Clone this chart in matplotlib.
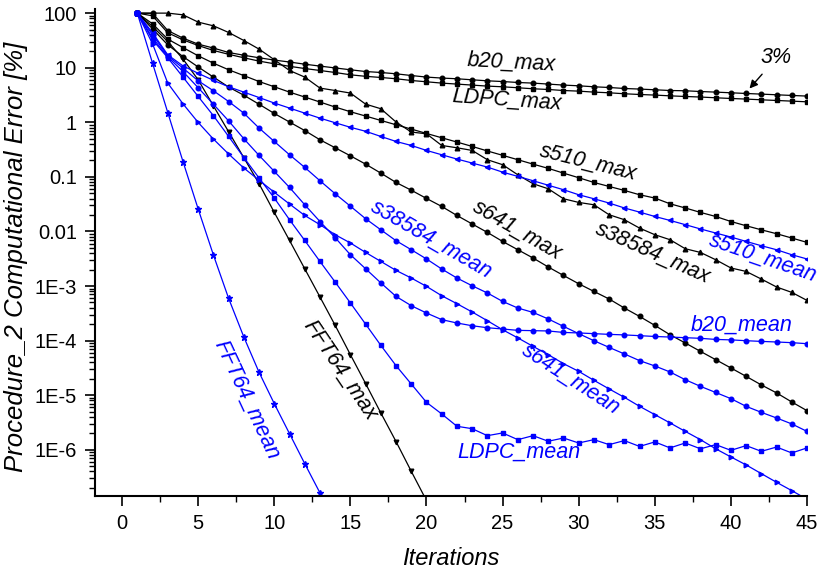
import matplotlib
matplotlib.use("Agg")
import matplotlib.pyplot as plt
from matplotlib.ticker import LogLocator, MultipleLocator, NullFormatter

# computational error [%] per iteration
b20_max = [100, 99.1, 48.0, 34.8, 27.0, 22.9, 19.0, 16.9, 15.2, 13.8, 12.7, 11.6, 10.7, 9.9, 9.16,
           8.51, 8.17, 7.73, 7.19, 6.73, 6.46, 6.27, 6.0, 5.75, 5.58, 5.36, 5.22, 5.01, 4.80, 4.66,
           4.47, 4.34, 4.16, 4.06, 3.94, 3.82, 3.78, 3.66, 3.57, 3.47, 3.37, 3.28, 3.19, 3.10, 3.02]
LDPC_max = [100, 89.3, 43.6, 32.4, 25.5, 20.7, 17.6, 15.2, 13.2, 11.8, 10.6, 9.66, 8.89, 8.17, 7.41,
            6.95, 6.62, 6.27, 5.83, 5.52, 5.22, 5.01, 4.80, 4.60, 4.47, 4.29, 4.11, 3.99, 3.82, 3.72,
            3.57, 3.47, 3.33, 3.23, 3.15, 3.05, 2.97, 2.90, 2.81, 2.73, 2.66, 2.58, 2.51, 2.44, 2.37]
s510_max = [100, 63.7, 33.4, 23.4, 16.5, 12.1, 9.16, 7.16, 5.58, 4.47, 3.57, 2.90, 2.35, 1.90, 1.56,
            1.30, 1.08, 0.90, 0.75, 0.624, 0.520, 0.434, 0.361, 0.298, 0.248, 0.206, 0.171, 0.143,
            0.117, 0.0964, 0.0789, 0.0667, 0.0564, 0.0470, 0.0409, 0.0321, 0.0269, 0.0223, 0.0188,
            0.0152, 0.0127, 0.0107, 0.00908, 0.00757, 0.00630]
s641_max = [100, 51.5, 26.2, 16.0, 10.3, 6.73, 4.42, 3.13, 2.14, 1.45, 1.01, 0.705, 0.478, 0.341,
            0.243, 0.171, 0.117, 0.0789, 0.0569, 0.0402, 0.0287, 0.0196, 0.0137, 0.00959, 0.00656,
            0.00462, 0.00326, 0.00223, 0.00156, 0.00110, 7.96e-4, 5.78e-4, 3.95e-4, 2.77e-4, 1.90e-4,
            1.28e-4, 9.04e-5, 6.34e-5, 4.47e-5, 3.15e-5, 2.21e-5, 1.54e-5, 1.10e-5, 7.50e-6, 5.20e-6]
s38584_max = [100, 100, 100, 93.1, 68.4, 58.5, 44.2, 31.5, 21.9, 14.0, 8.89, 6.73, 4.23, 3.82, 3.43,
              2.15, 1.77, 1.01, 0.662, 0.615, 0.376, 0.341, 0.305, 0.206, 0.167, 0.109, 0.0748,
              0.0605, 0.0397, 0.0340, 0.0308, 0.0202, 0.0164, 0.0115, 0.00871, 0.00705, 0.00482,
              0.00412, 0.00303, 0.00214, 0.00185, 0.00134, 9.59e-4, 7.64e-4, 5.45e-4]
FFT64_max = [100, 56.9, 30.2, 14.4, 6.0, 2.0, 0.670, 0.224, 0.0748, 0.0223, 0.00684, 0.00207,
             6.30e-4, 1.90e-4, 5.52e-5, 1.63e-5, 4.72e-6, 1.41e-6, 4.02e-7, 1.17e-7]

s510_mean = [100, 43.6, 17.2, 10.8, 7.89, 5.87, 4.47, 3.57, 2.84, 2.25, 1.82, 1.47, 1.19, 0.98,
             0.809, 0.684, 0.550, 0.445, 0.376, 0.305, 0.254, 0.212, 0.179, 0.151, 0.122, 0.102,
             0.0849, 0.0702, 0.0581, 0.0470, 0.0397, 0.0331, 0.0269, 0.0226, 0.0188, 0.0159, 0.0133,
             0.0111, 0.00935, 0.00789, 0.00656, 0.00547, 0.00462, 0.00374, 0.00313]
s38584_mean = [100, 40.1, 16.5, 9.84, 5.75, 3.78, 2.40, 1.47, 0.783, 0.445, 0.254, 0.149, 0.0849,
               0.0490, 0.0290, 0.0171, 0.0107, 0.00676, 0.00462, 0.00313, 0.00205, 0.00140, 0.00101,
               7.45e-4, 5.22e-4, 3.95e-4, 3.28e-4, 2.49e-4, 1.82e-4, 1.34e-4, 9.95e-5, 7.50e-5,
               5.69e-5, 4.29e-5, 3.43e-5, 2.66e-5, 1.92e-5, 1.45e-5, 1.12e-5, 8.63e-6, 6.24e-6,
               4.84e-6, 3.82e-6, 2.97e-6, 2.17e-6]
b20_mean = [100, 35.3, 15.8, 8.51, 4.29, 2.14, 1.06, 0.499, 0.247, 0.126, 0.0640, 0.0308, 0.0152,
            0.00767, 0.00374, 0.00207, 0.00114, 6.44e-4, 4.36e-4, 3.20e-4, 2.42e-4, 2.10e-4, 1.87e-4,
            1.72e-4, 1.63e-4, 1.54e-4, 1.52e-4, 1.50e-4, 1.41e-4, 1.38e-4, 1.34e-4, 1.30e-4, 1.27e-4,
            1.23e-4, 1.19e-4, 1.16e-4, 1.13e-4, 1.10e-4, 1.05e-4, 1.03e-4, 9.95e-5, 9.66e-5, 9.42e-5,
            9.16e-5, 8.77e-5]
s641_mean = [100, 27.4, 5.22, 2.18, 0.991, 0.492, 0.262, 0.145, 0.0867, 0.0522, 0.0318, 0.0196,
             0.0133, 0.00871, 0.00614, 0.00412, 0.00282, 0.00193, 0.00140, 9.84e-4, 6.64e-4, 4.74e-4,
             3.34e-4, 2.31e-4, 1.58e-4, 1.12e-4, 7.83e-5, 5.52e-5, 3.78e-5, 2.73e-5, 1.87e-5, 1.30e-5,
             9.12e-6, 6.24e-6, 4.40e-6, 3.10e-6, 2.17e-6, 1.53e-6, 1.04e-6, 7.38e-7, 5.27e-7, 3.65e-7,
             2.53e-7, 1.78e-7, 1.24e-7]
LDPC_mean = [100, 32.4, 15.2, 6.73, 2.97, 1.32, 0.550, 0.226, 0.0951, 0.0409, 0.0164, 0.00684,
             0.00282, 0.00118, 4.89e-4, 2.00e-4, 8.17e-5, 3.47e-5, 1.60e-5, 7.38e-6, 4.53e-6, 2.69e-6,
             2.43e-6, 1.81e-6, 2.03e-6, 1.53e-6, 1.81e-6, 1.43e-6, 1.64e-6, 1.33e-6, 1.53e-6, 1.24e-6,
             1.47e-6, 1.15e-6, 1.39e-6, 1.08e-6, 1.33e-6, 1.04e-6, 1.24e-6, 9.75e-7, 1.19e-6, 9.35e-7,
             1.12e-6, 8.73e-7, 1.08e-6]
FFT64_mean = [100, 12.1, 1.51, 0.191, 0.0257, 0.0037, 5.93e-4, 1.16e-4, 2.62e-5, 6.98e-6, 1.97e-6,
              5.56e-7, 1.62e-7]

ytick_vals = [100, 10, 1, 0.1, 0.01, 1e-3, 1e-4, 1e-5, 1e-6]
ytick_labels = ["100", "10", "1", "0.1", "0.01", "1E-3", "1E-4", "1E-5", "1E-6"]

BLUE = "#0000ff"
FONT = "Liberation Sans"
plt.rcParams["font.family"] = [FONT, "DejaVu Sans"]

series = [
    (b20_max, "o", "black"), (LDPC_max, "s", "black"), (s510_max, "s", "black"),
    (s641_max, "o", "black"), (s38584_max, "^", "black"), (FFT64_max, "v", "black"),
    (s510_mean, "<", BLUE), (s38584_mean, "o", BLUE), (b20_mean, "o", BLUE),
    (s641_mean, ">", BLUE), (LDPC_mean, "s", BLUE), (FFT64_mean, "*", BLUE),
]

fig = plt.figure(figsize=(8.2, 5.71), dpi=100)
ax = fig.add_axes([95 / 820, 1 - 496 / 571, 712 / 820, 487 / 571])

for vals, mk, col in series:
    its = list(range(1, len(vals) + 1))
    ms = 5.0 if mk == "*" else 3.3
    ax.plot(its, vals, marker=mk, color=col, lw=0.9, ms=ms, mec=col, mfc=col)

ax.set_yscale("log")
ax.set_xlim(-1.78, 45)
ax.set_ylim(1.42e-7, 119)

ax.set_xticks(range(0, 46, 5))
ax.xaxis.set_minor_locator(MultipleLocator(2.5))
ax.set_yticks(ytick_vals, labels=ytick_labels)
ax.yaxis.set_minor_locator(LogLocator(base=10, subs=[2, 3, 4, 5, 6, 7, 8, 9], numticks=100))
ax.yaxis.set_minor_formatter(NullFormatter())

for s in ["top", "right"]:
    ax.spines[s].set_visible(False)
for s in ["left", "bottom"]:
    ax.spines[s].set_linewidth(1.5)

ax.tick_params(which="major", direction="out", length=7, width=1.2, labelsize=14.5, pad=6)
ax.tick_params(which="minor", direction="out", length=4, width=1.0)

ax.set_xlabel("Iterations", fontsize=17, fontstyle="italic")
ax.xaxis.set_label_coords(0.5, -0.105)
ax.set_ylabel("Procedure_2 Computational Error [%]", fontsize=18.5, fontstyle="italic")
ax.yaxis.set_label_coords(-0.094, 0.49)

labels = [
    ("b20_max", 25.6, 12.3, -3, "black"),
    ("LDPC_max", 25.3, 2.58, -4, "black"),
    ("s510_max", 30.6, 0.181, -14, "black"),
    ("s641_max", 26.0, 0.0107, -30, "black"),
    ("s38584_max", 34.9, 0.0041, -24, "black"),
    ("FFT64_max", 14.3, 2.9e-5, -56, "black"),
    ("s510_mean", 42.1, 0.0033, -19, BLUE),
    ("s38584_mean", 20.3, 0.00703, -30, BLUE),
    ("b20_mean", 40.7, 1.95e-4, 0, BLUE),
    ("s641_mean", 29.5, 1.92e-5, -33, BLUE),
    ("LDPC_mean", 26.05, 8.85e-7, 0, BLUE),
    ("FFT64_mean", 8.16, 8.28e-6, -65, BLUE),
]
for txt, x, y, rot, col in labels:
    ax.text(x, y, txt, color=col, fontsize=15.5, fontstyle="italic", rotation=rot,
            ha="center", va="center", rotation_mode="anchor", clip_on=False)

ax.annotate("3%", xy=(41.1, 3.8), xytext=(43.0, 15.2), fontsize=15.5, fontstyle="italic",
            ha="center", va="center",
            arrowprops=dict(arrowstyle="-|>", color="black", lw=1, mutation_scale=12, shrinkA=3))

fig.savefig("out.png", dpi=100)
